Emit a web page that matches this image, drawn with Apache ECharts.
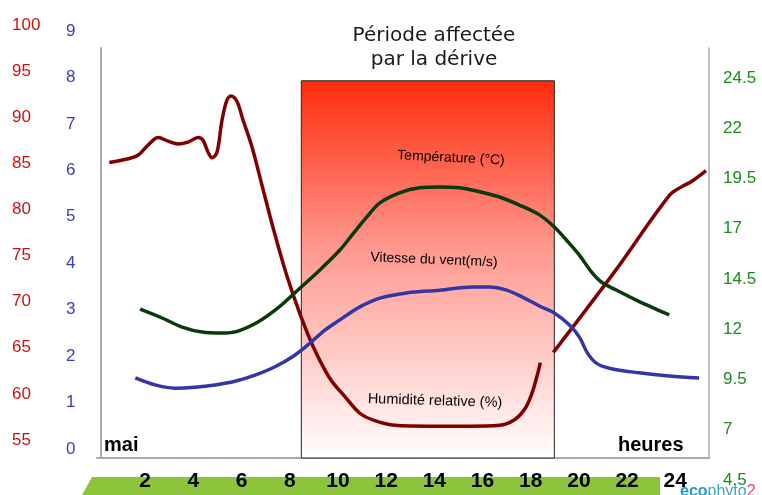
<!DOCTYPE html>
<html>
<head>
<meta charset="utf-8">
<script src="https://cdn.jsdelivr.net/npm/echarts@6/dist/echarts.min.js"></script>
<style>
  html, body { margin: 0; padding: 0; background: #fff; }
  #chart { width: 762px; height: 495px; }
</style>
</head>
<body>
<div id="chart"></div>
<script>
// heures de la journée (mai)
var xTickValues = [2, 4, 6, 8, 10, 12, 14, 16, 18, 20, 22, 24];
var periodStart = 8.48, periodEnd = 18.98;

// humidité relative (%), axe rouge
var humHours = [0.51, 1.30, 1.71, 2.13, 2.54, 2.95, 3.37, 3.78, 4.20, 4.40, 4.61, 4.78, 4.98, 5.19, 5.40, 5.56, 5.81, 6.06, 6.43, 6.85, 7.35, 7.88, 8.42, 8.96, 9.66, 10.29, 10.91, 11.53, 12.36, 13.81, 15.46, 16.71, 17.33, 17.74, 18.03, 18.28, 18.40, 18.7, 18.94, 21.47, 23.75, 24.29, 24.66, 25.28];
var humValues = [85.1, 85.5, 85.9, 87.0, 87.8, 87.4, 87.1, 87.3, 87.8, 87.5, 86.2, 85.6, 86.2, 89.7, 91.9, 92.3, 91.7, 89.7, 86.8, 82.6, 77.6, 72.8, 68.7, 65.2, 61.7, 59.7, 57.9, 57.1, 56.6, 56.5, 56.5, 56.6, 57.2, 58.3, 59.9, 62.1, 63.4, null, 64.5, 73.2, 81.5, 82.5, 83.0, 84.2];

// vitesse du vent (m/s), axe bleu
var windHours = [1.59, 2.41, 3.24, 4.07, 4.90, 5.73, 6.56, 7.39, 8.21, 8.75, 9.46, 10.08, 10.91, 11.74, 12.85, 14.22, 15.59, 16.29, 17.00, 17.66, 18.36, 18.98, 19.61, 20.02, 20.35, 20.72, 21.26, 22.50, 23.75, 24.99];
var windValues = [1.53, 1.38, 1.31, 1.33, 1.38, 1.46, 1.59, 1.77, 2.02, 2.24, 2.56, 2.78, 3.06, 3.25, 3.36, 3.42, 3.49, 3.49, 3.42, 3.27, 3.08, 2.93, 2.67, 2.41, 2.07, 1.85, 1.74, 1.64, 1.57, 1.53];

// température (°C), axe vert
var tempHours = [1.79, 2.70, 3.53, 4.36, 5.19, 5.85, 6.68, 7.51, 8.21, 9.25, 10.08, 10.62, 11.20, 11.74, 12.56, 13.39, 14.22, 15.05, 15.87, 16.71, 17.53, 18.36, 18.98, 19.48, 20.02, 20.52, 20.93, 21.55, 22.38, 23.20, 23.75];
var tempValues = [13.00, 12.56, 12.11, 11.86, 11.81, 11.91, 12.36, 13.06, 13.81, 14.95, 15.94, 16.74, 17.59, 18.29, 18.79, 19.04, 19.08, 19.04, 18.84, 18.58, 18.18, 17.69, 17.09, 16.44, 15.69, 14.85, 14.35, 13.95, 13.45, 13.00, 12.71];

function pairs(xs, ys) {
    return xs.map(function (x, i) { return [x, ys[i]]; });
}

var FONT = '"Liberation Sans", Arial, sans-serif';
var chart = echarts.init(document.getElementById('chart'));

function hiddenX(grid) {
    return { type: 'value', gridIndex: grid, min: 0, max: 25.4, show: false };
}
function plainY(grid, pos, min, max, interval, color, margin, size) {
    return {
        type: 'value', gridIndex: grid, position: pos, min: min, max: max, interval: interval,
        axisLine: { show: false }, axisTick: { show: false }, splitLine: { show: false },
        axisLabel: { color: color, fontFamily: FONT, fontSize: size, align: 'left', margin: margin }
    };
}

var option = {
    animation: false,
    backgroundColor: '#fff',
    grid: [
        { left: 97, right: 53, top: 48, bottom: 37 },   // cadre
        { left: 97, right: 53, top: 25, bottom: 55 },   // humidité
        { left: 97, right: 53, top: 31, bottom: 46 },   // vent
        { left: 97, right: 53, top: 78, bottom: 15 }    // température
    ],
    xAxis: [
        {
            type: 'value', gridIndex: 0, min: 0, max: 25.4,
            axisLine: { lineStyle: { color: '#aaaaaa', width: 2 } },
            axisTick: { show: false }, splitLine: { show: false },
            axisLabel: {
                customValues: xTickValues, margin: 13, color: '#000',
                fontFamily: FONT, fontWeight: 'bold', fontSize: 21
            }
        },
        hiddenX(1), hiddenX(2), hiddenX(3)
    ],
    yAxis: [
        {
            type: 'value', gridIndex: 0, min: 0, max: 1, position: 'left', offset: -4,
            axisLine: { show: true, lineStyle: { color: '#aaaaaa', width: 2 } },
            axisTick: { show: false }, axisLabel: { show: false }, splitLine: { show: false }
        },
        {
            type: 'value', gridIndex: 0, min: 0, max: 1, position: 'right',
            axisLine: { show: true, lineStyle: { color: '#aaaaaa', width: 1.5 } },
            axisTick: { show: false }, axisLabel: { show: false }, splitLine: { show: false }
        },
        plainY(1, 'left', 55, 100, 5, '#cc1111', 85, 17),
        plainY(2, 'left', 0, 9, 1, '#3a3ac4', 31, 17),
        plainY(3, 'right', 4.5, 24.5, 2.5, '#1a8c1a', 14, 17)
    ],
    series: [
        {
            type: 'line', xAxisIndex: 0, yAxisIndex: 0, data: [], silent: true,
            markArea: {
                silent: true,
                itemStyle: {
                    color: {
                        type: 'linear', x: 0, y: 0, x2: 0, y2: 1,
                        colorStops: [
                            { offset: 0, color: '#ff2c0c' },
                            { offset: 0.45, color: '#ff9990' },
                            { offset: 1, color: '#ffffff' }
                        ]
                    },
                    borderColor: '#222', borderWidth: 1
                },
                data: [[{ xAxis: periodStart, yAxis: 0 }, { xAxis: periodEnd, yAxis: 0.92 }]]
            }
        },
        {
            name: 'Humidité relative (%)', type: 'line', xAxisIndex: 1, yAxisIndex: 2, z: 5,
            data: pairs(humHours, humValues), smooth: 0.35, showSymbol: false, connectNulls: false,
            lineStyle: { color: '#800000', width: 3.5 }
        },
        {
            name: 'Vitesse du vent(m/s)', type: 'line', xAxisIndex: 2, yAxisIndex: 3, z: 5,
            data: pairs(windHours, windValues), smooth: 0.35, showSymbol: false,
            lineStyle: { color: '#3535a5', width: 3.5 }
        },
        {
            name: 'Température (°C)', type: 'line', xAxisIndex: 3, yAxisIndex: 4, z: 5,
            data: pairs(tempHours, tempValues), smooth: 0.35, showSymbol: false,
            lineStyle: { color: '#0a3a0a', width: 3.5 }
        }
    ],
    graphic: [
        { type: 'polygon', z: -10, shape: { points: [[82, 495], [92, 477], [660, 477], [660, 495]] }, style: { fill: '#8cc43c' } },
        { type: 'text', x: 434, y: 24, style: { text: 'Période affectée\npar la dérive', align: 'center', font: '20px "DejaVu Sans"', lineHeight: 24, fill: '#1a1a1a' } },
        { type: 'text', x: 451, y: 158, rotation: -0.05, z: 10, style: { text: 'Température (°C)', align: 'center', verticalAlign: 'middle', font: '14px ' + FONT, fill: '#000' } },
        { type: 'text', x: 434, y: 260, rotation: -0.04, z: 10, style: { text: 'Vitesse du vent(m/s)', align: 'center', verticalAlign: 'middle', font: '14px ' + FONT, fill: '#000' } },
        { type: 'text', x: 435, y: 401, rotation: -0.03, z: 10, style: { text: 'Humidité relative (%)', align: 'center', verticalAlign: 'middle', font: '14.5px ' + FONT, fill: '#000' } },
        { type: 'text', x: 104, y: 445, style: { text: 'mai', verticalAlign: 'middle', font: 'bold 20px ' + FONT, fill: '#000' } },
        { type: 'text', x: 618, y: 445, style: { text: 'heures', verticalAlign: 'middle', font: 'bold 20px ' + FONT, fill: '#000' } },
        {
            type: 'text', x: 680, y: 484, z: 10,
            style: {
                text: '{a|eco}{b|phyto}{c|2}', font: 'bold 16px ' + FONT,
                rich: {
                    a: { fill: '#1e9ad6', font: 'bold 16px ' + FONT },
                    b: { fill: '#3aa3c8', font: '16px ' + FONT },
                    c: { fill: '#e0409a', font: '16px ' + FONT }
                }
            }
        }
    ]
};

chart.setOption(option);
</script>
</body>
</html>
